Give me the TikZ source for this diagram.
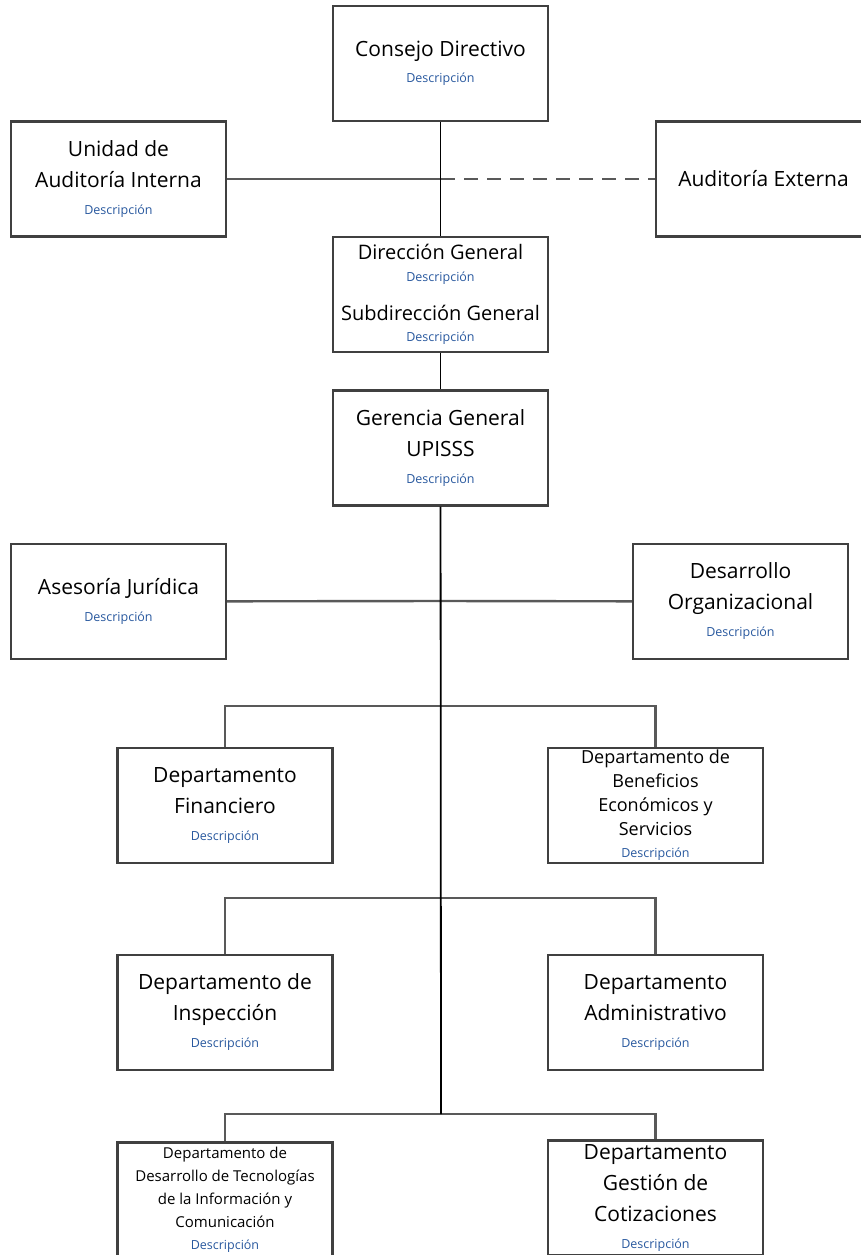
\documentclass[tikz,border=0pt]{standalone}
\usepackage{fontspec}
\setmainfont{Open Sans}
\usetikzlibrary{calc}

\definecolor{descblue}{RGB}{40,88,158}
\newcommand\descr[1][-5pt]{\\[#1]{\color{descblue}\fontsize{12.5}{15}\selectfont Descripción}}

\tikzset{
  unit/.style={draw=black!75,line width=2.2pt,minimum width=215pt,minimum height=115pt,
               align=center,inner sep=1pt,font=\fontsize{21}{31}\selectfont},
  link/.style={draw=black!65,line width=2.4pt},
  trunk/.style={draw=black,line width=1.8pt}
}

\begin{document}
\begin{tikzpicture}[x=1pt,y=-1pt]
    \useasboundingbox (0,0) rectangle (860,1255);
    \node[unit] (Consejo) at (440.5,63.5) {Consejo Directivo\descr};
    \node[unit] (Unidad) at (118.5,179) {Unidad de\\Auditoría Interna\descr[-4pt]};
    \node[unit] (Externa) at (763.5,179) {Auditoría Externa};
    \node[unit,font=\fontsize{20}{31}\selectfont] (Direccion) at (440.5,294.5)
         {Dirección General\descr[-9pt]\\[8pt]Subdirección General\descr[-10pt]};
    \node[unit] (Gerencia) at (440.5,448) {Gerencia General\\UPISSS\descr[-4pt]};
    \node[unit] (Asesoria) at (118.5,601.5) {Asesoría Jurídica\descr[-4pt]};
    \node[unit] (Desarrollo) at (740.5,601.5) {Desarrollo\\Organizacional\descr[-4pt]};
    \node[unit] (Financiero) at (225,805.5) {Departamento\\Financiero\descr[-4pt]};
    \node[unit,font=\fontsize{18}{24}\selectfont] (Beneficios) at (655.5,805.5)
         {Departamento de\\Beneficios\\Económicos y\\Servicios\descr[-2pt]};
    \node[unit] (Inspeccion) at (225,1012.5) {Departamento de\\Inspección\descr[-4pt]};
    \node[unit] (Administrativo) at (655.5,1012.5) {Departamento\\Administrativo\descr[-4pt]};
    \node[unit,font=\fontsize{15}{23}\selectfont] (Tecnologias) at (225,1200)
         {Departamento de\\Desarrollo de Tecnologías\\de la Información y\\Comunicación\descr[-1pt]};
    \node[unit] (Cotizaciones) at (655.5,1198) {Departamento\\Gestión de\\Cotizaciones\descr[-4pt]};

    \coordinate (Cruce1) at (441,179);
    \coordinate (Cruce2) at (441,601);
    \coordinate (Ramal1) at (441,706);
    \coordinate (Ramal2) at (441,898);
    \coordinate (Ramal3) at (441,1114);

    \draw[link] (Unidad) -- (Cruce1);
    \draw[link,dash pattern=on 14pt off 9pt] (Cruce1) -- (Externa);
    \draw[link] (Asesoria) -- (Cruce2) -- (Desarrollo);
    \foreach \izq/\der/\n in {Financiero/Beneficios/1,Inspeccion/Administrativo/2,Tecnologias/Cotizaciones/3}
             {
               \draw[link] (\izq.north) |- (Ramal\n) -| (\der.north);
             }
    \draw[trunk] (Consejo) -- (Direccion);
    \draw[trunk] (Direccion) -- (Gerencia);
    \draw[trunk] (Gerencia) -- (Ramal3);
\end{tikzpicture}
\end{document}
